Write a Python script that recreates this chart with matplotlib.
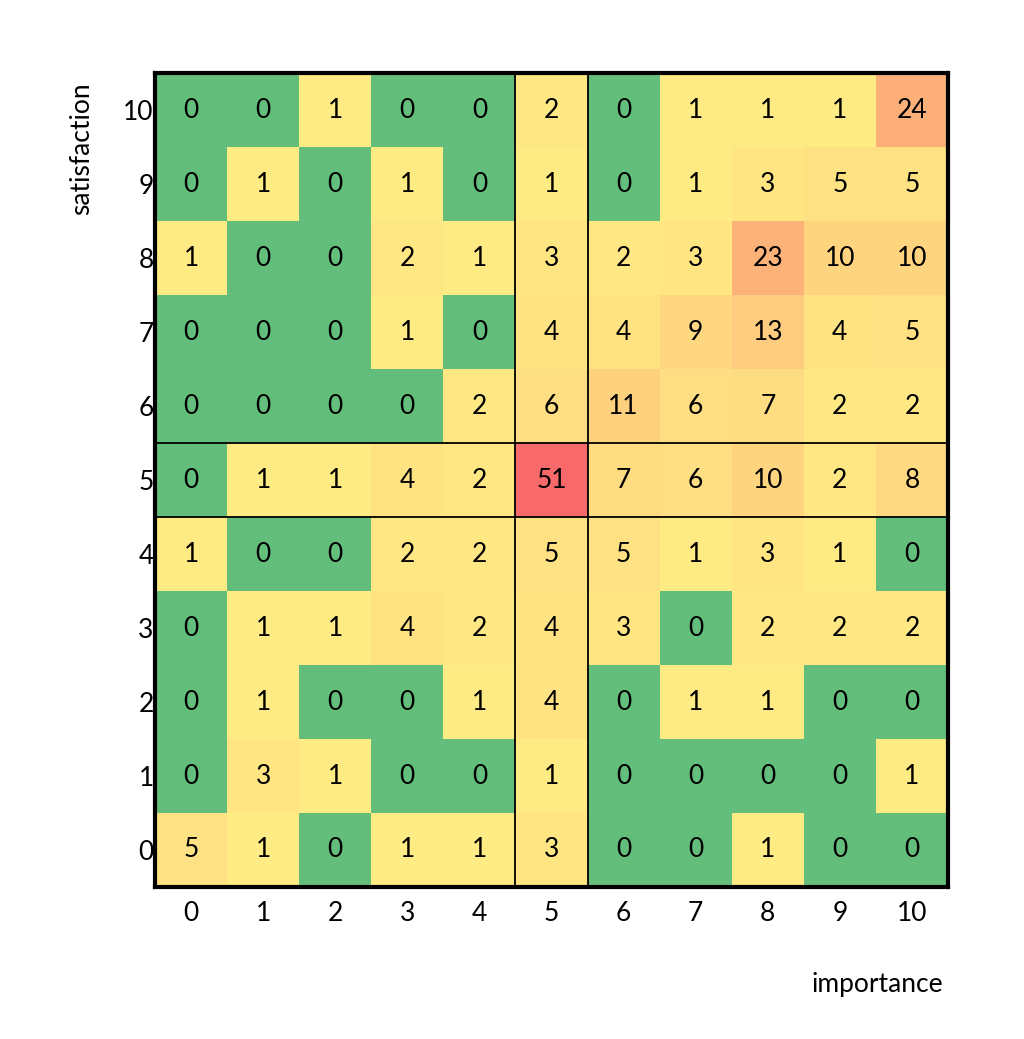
import matplotlib
matplotlib.use("Agg")
import matplotlib.pyplot as plt
from matplotlib.colors import LinearSegmentedColormap
import numpy as np

plt.rcParams['font.family'] = ['Lato', 'DejaVu Sans']

importance = list(range(11))
satisfaction = list(range(11))

# rows: satisfaction 0 (first) .. 10 (last); columns: importance 0..10
counts_s0 = [5, 1, 0, 1, 1, 3, 0, 0, 1, 0, 0]
counts_s1 = [0, 3, 1, 0, 0, 1, 0, 0, 0, 0, 1]
counts_s2 = [0, 1, 0, 0, 1, 4, 0, 1, 1, 0, 0]
counts_s3 = [0, 1, 1, 4, 2, 4, 3, 0, 2, 2, 2]
counts_s4 = [1, 0, 0, 2, 2, 5, 5, 1, 3, 1, 0]
counts_s5 = [0, 1, 1, 4, 2, 51, 7, 6, 10, 2, 8]
counts_s6 = [0, 0, 0, 0, 2, 6, 11, 6, 7, 2, 2]
counts_s7 = [0, 0, 0, 1, 0, 4, 4, 9, 13, 4, 5]
counts_s8 = [1, 0, 0, 2, 1, 3, 2, 3, 23, 10, 10]
counts_s9 = [0, 1, 0, 1, 0, 1, 0, 1, 3, 5, 5]
counts_s10 = [0, 0, 1, 0, 0, 2, 0, 1, 1, 1, 24]

grid = np.array([counts_s0, counts_s1, counts_s2, counts_s3, counts_s4, counts_s5,
                 counts_s6, counts_s7, counts_s8, counts_s9, counts_s10])

# zero -> green, 1..max -> yellow to red (Excel-like colour scale)
cmap = LinearSegmentedColormap.from_list("yr", ["#FFEB84", "#F8696B"])
cmap.set_under("#63BE7B")

fig = plt.figure(figsize=(10.24, 10.39), dpi=100)
ax = fig.add_axes([0.1514, 0.1463, 0.7744, 0.7834])

xe = np.arange(12) - 0.5
ax.pcolormesh(xe, xe, grid, cmap=cmap, vmin=1, vmax=grid.max())

fs = 19
for i in satisfaction:
    for j in importance:
        ax.text(j, i, str(grid[i, j]), ha="center", va="center", fontsize=fs, color="black")

for v in (4.5, 5.5):
    ax.axvline(v, color="black", lw=1.3)
    ax.axhline(v, color="black", lw=1.3)

ax.set_xlim(-0.5, 10.5)
ax.set_ylim(-0.5, 10.5)
ax.set_xticks(importance)
ax.set_yticks(satisfaction)
ax.tick_params(length=0, labelsize=fs, pad=1)
ax.tick_params(axis="x", pad=10)
for s in ax.spines.values():
    s.set_linewidth(3)

fig.text(0.921, 0.052, "importance", ha="right", va="center", fontsize=fs)
fig.text(0.080, 0.921, "satisfaction", ha="center", va="top", rotation=90, fontsize=fs)

fig.savefig("out.png", dpi=100)
